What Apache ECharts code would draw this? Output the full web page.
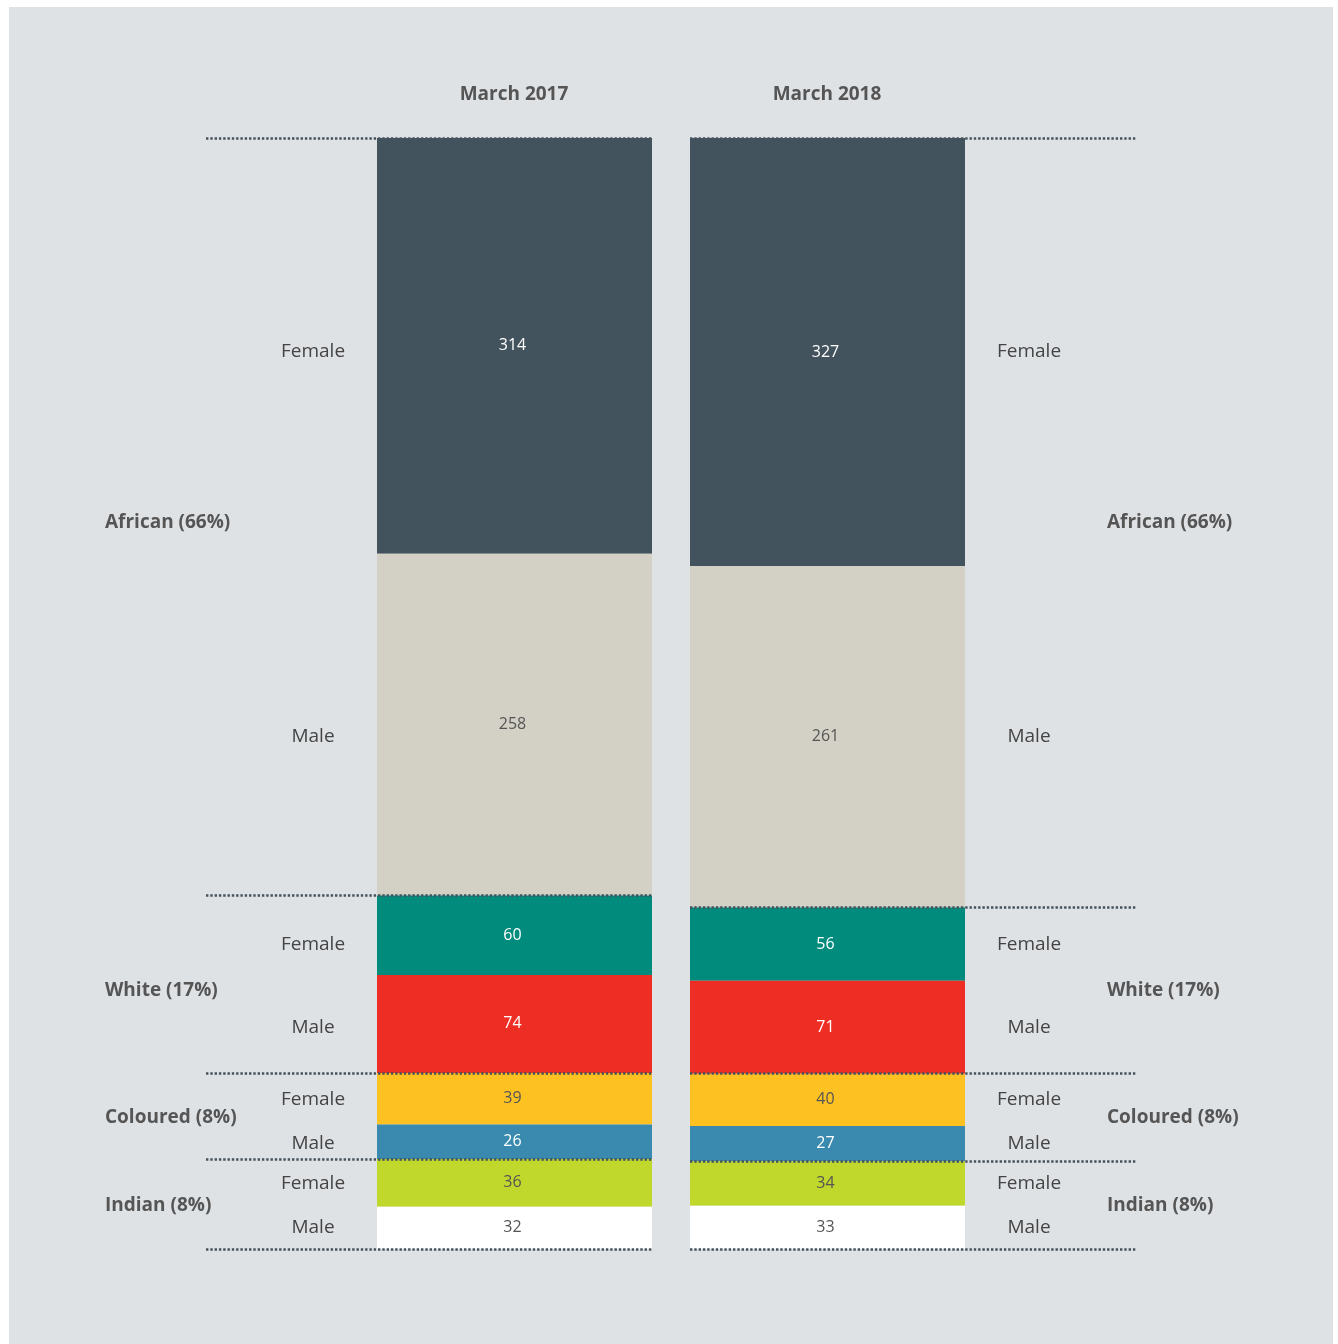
<!DOCTYPE html>
<html><head><meta charset="utf-8">
<script src="https://cdn.jsdelivr.net/npm/echarts@6/dist/echarts.min.js"></script>
<style>html,body{margin:0;padding:0;background:#fff}#c{width:1338px;height:1344px}</style>
</head><body><div id="c"></div>
<script>
const periods = ['March 2017', 'March 2018'];
const groups = ['African (66%)', 'White (17%)', 'Coloured (8%)', 'Indian (8%)'];
const genders = ['Female', 'Male'];
const values2017 = [314, 258, 60, 74, 39, 26, 36, 32];
const values2018 = [327, 261, 56, 71, 40, 27, 34, 33];
const segColors = ['#43535e', '#d3d1c5', '#008b7d', '#ee2e24', '#fdc221', '#3a8aaf', '#c0d72c', '#ffffff'];
const segLabelColors = ['#ffffff', '#555555', '#ffffff', '#ffffff', '#555555', '#ffffff', '#555555', '#555555'];

const FONT = '"Open Sans", "Noto Sans", sans-serif';
const TEXT = '#444444';
const sum = a => a.reduce((s, v) => s + v, 0);
const t17 = sum(values2017), t18 = sum(values2018);
const groupSums = vals => groups.map((g, i) => vals[2 * i] + vals[2 * i + 1]);
const bounds = vals => { const gs = groupSums(vals); const b = [0]; gs.forEach(v => b.push(b[b.length - 1] + v)); return b; };

const TOP = 138, H = 1111;
const gridDefs = [
  { left: 377, width: 275, max: t17 },  // 0 bar 2017
  { left: 690, width: 275, max: t18 },  // 1 bar 2018
  { left: 280, width: 66, max: t18 },   // 2 left gender labels
  { left: 996, width: 66, max: t18 },   // 3 right gender labels
  { left: 105, width: 10, max: t18 },   // 4 left group labels
  { left: 1107, width: 10, max: t18 },  // 5 right group labels
  { left: 206, width: 446, max: t17 },  // 6 left dotted lines
  { left: 690, width: 447, max: t18 }   // 7 right dotted lines
];
const grid = gridDefs.map(g => ({ left: g.left, width: g.width, top: TOP, height: H }));
const xAxis = gridDefs.map((g, i) => ({ type: 'category', data: ['x'], gridIndex: i, show: false }));
const yAxis = gridDefs.map((g, i) => ({ type: 'value', gridIndex: i, min: 0, max: g.max, inverse: true, show: false }));

const series = [];
[values2017, values2018].forEach((vals, gi) => {
  vals.forEach((v, k) => {
    series.push({
      type: 'bar', xAxisIndex: gi, yAxisIndex: gi, stack: 'bar' + gi, barWidth: '100%', z: 2,
      data: [v], itemStyle: { color: segColors[k] },
      label: { show: true, position: 'inside', offset: [-2, 0], color: segLabelColors[k], fontFamily: FONT, fontSize: 16 }
    });
  });
});
[2, 3].forEach(gi => {
  values2018.forEach((v, k) => {
    series.push({
      type: 'bar', xAxisIndex: gi, yAxisIndex: gi, stack: 'g' + gi, barWidth: '100%', z: 1,
      data: [v], itemStyle: { color: 'transparent' },
      label: { show: true, position: 'inside', formatter: genders[k % 2], color: TEXT, fontFamily: FONT, fontSize: 19 }
    });
  });
});
[4, 5].forEach(gi => {
  groupSums(values2018).forEach((v, k) => {
    series.push({
      type: 'bar', xAxisIndex: gi, yAxisIndex: gi, stack: 'grp' + gi, barWidth: '100%', z: 1,
      data: [v], itemStyle: { color: 'transparent' },
      label: { show: true, position: 'insideLeft', distance: 0, formatter: groups[k], color: '#555555', fontFamily: FONT, fontSize: 19, fontWeight: 'bold' }
    });
  });
});
[[6, values2017], [7, values2018]].forEach(([gi, vals]) => {
  series.push({
    type: 'line', xAxisIndex: gi, yAxisIndex: gi, data: [], z: 5,
    markLine: {
      silent: true, symbol: ['none', 'none'], label: { show: false },
      lineStyle: { color: '#46525c', width: 2.6, type: [2.4, 1.9] },
      data: bounds(vals).map(b => ({ yAxis: b }))
    }
  });
});

const chart = echarts.init(document.getElementById('c'), null, { renderer: 'canvas' });
chart.setOption({
  animation: false,
  backgroundColor: '#ffffff',
  graphic: [{ type: 'rect', z: -10, shape: { x: 9, y: 7, width: 1324, height: 1337 }, style: { fill: '#dfe2e5' } }],
  title: periods.map((p, i) => ({
    text: p, left: [509, 822][i], top: 80, textAlign: 'center',
    textStyle: { fontFamily: FONT, fontSize: 19, fontWeight: 'bold', color: '#555555' }
  })),
  grid, xAxis, yAxis, series
});
</script></body></html>
